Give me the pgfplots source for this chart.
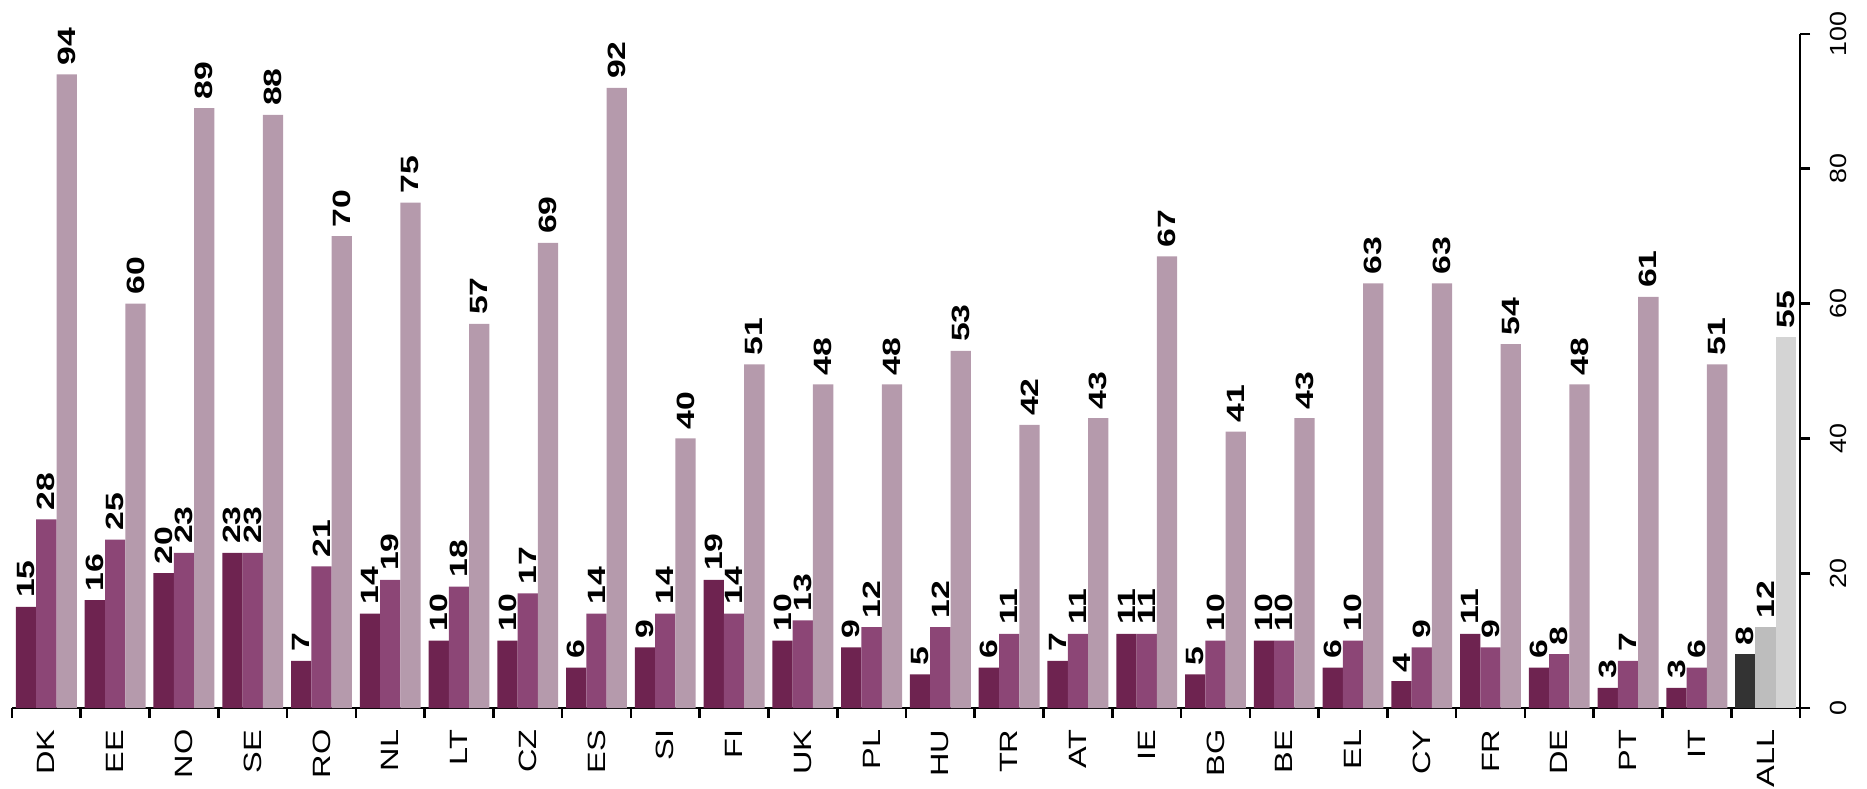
\documentclass[border=0pt]{standalone}
\usepackage{pgfplots}
\usepackage{pgfplotstable}
\usepackage{graphicx}
\usepackage{fontspec}
\setmainfont{Liberation Sans}
\pgfplotsset{compat=1.18}
\definecolor{cdark}{HTML}{6E2350}
\definecolor{cmid}{HTML}{8C4676}
\definecolor{clight}{HTML}{B59AAC}
\definecolor{gdark}{HTML}{333333}
\definecolor{gmid}{HTML}{BDBDBD}
\definecolor{glight}{HTML}{D4D4D4}
\newcommand\sx[1]{\scalebox{1.3}[1]{#1}}
\pgfplotstableread{
x a b c
0 15 28 94
1 16 25 60
2 20 23 89
3 23 23 88
4 7 21 70
5 14 19 75
6 10 18 57
7 10 17 69
8 6 14 92
9 9 14 40
10 19 14 51
11 10 13 48
12 9 12 48
13 5 12 53
14 6 11 42
15 7 11 43
16 11 11 67
17 5 10 41
18 10 10 43
19 6 10 63
20 4 9 63
21 11 9 54
22 6 8 48
23 3 7 61
24 3 6 51
}\countries
\pgfplotstableread{
x a b c
25 8 12 55
}\allrow
\begin{document}
\begin{tikzpicture}
\begin{axis}[
  scale only axis,
  width=536.4pt, height=202.2pt,
  xmin=-0.5, xmax=25.5, ymin=0, ymax=100,
  axis x line=bottom, axis y line=right,
  axis line style={-, line width=0.8pt, black},
  tick align=outside,
  xtick={0,...,25},
  xticklabels={\sx{DK},\sx{EE},\sx{NO},\sx{SE},\sx{RO},\sx{NL},\sx{LT},\sx{CZ},\sx{ES},\sx{SI},\sx{FI},\sx{UK},\sx{PL},\sx{HU},\sx{TR},\sx{AT},\sx{IE},\sx{BG},\sx{BE},\sx{EL},\sx{CY},\sx{FR},\sx{DE},\sx{PT},\sx{IT},\sx{ALL}},
  major x tick style={draw=none},
  minor xtick={-0.5,0.5,...,25.5},
  minor tick length=3pt,
  minor x tick style={line width=0.8pt, black},
  xticklabel style={rotate=90, anchor=east, inner sep=0pt,
    font=\fontsize{7.5}{8}\selectfont},
  xticklabel shift=3.3pt,
  ytick={0,20,...,100},
  major tick length=3pt,
  major y tick style={line width=0.8pt, black},
  yticklabel style={rotate=90, anchor=north, inner sep=0pt,
    font=\fontsize{7}{8}\selectfont},
  yticklabel={\scalebox{1.15}[1]{\pgfmathprintnumber[assume math mode=true]{\tick}}},
  yticklabel shift=6pt,
  ybar, bar width=0.295,
  every axis plot/.append style={draw=none},
  nodes near coords={\scalebox{1.35}[1]{\pgfmathprintnumber[assume math mode=true]{\pgfplotspointmeta}}},
  nodes near coords style={rotate=90, anchor=west, inner sep=2.5pt,
    font=\fontsize{7.5}{8}\selectfont\bfseries, black},
]
\addplot[fill=cdark, bar shift=-0.295] table[x=x,y=a]{\countries};
\addplot[fill=cmid, bar shift=0] table[x=x,y=b]{\countries};
\addplot[fill=clight, bar shift=0.295] table[x=x,y=c]{\countries};
\addplot[fill=gdark, bar shift=-0.295] table[x=x,y=a]{\allrow};
\addplot[fill=gmid, bar shift=0] table[x=x,y=b]{\allrow};
\addplot[fill=glight, bar shift=0.295] table[x=x,y=c]{\allrow};
\end{axis}
\pgfresetboundingbox
\path[use as bounding box] (current axis.south west) ++(-3.6pt,-24pt) rectangle ++(560.1pt,236.4pt);
\end{tikzpicture}
\end{document}
